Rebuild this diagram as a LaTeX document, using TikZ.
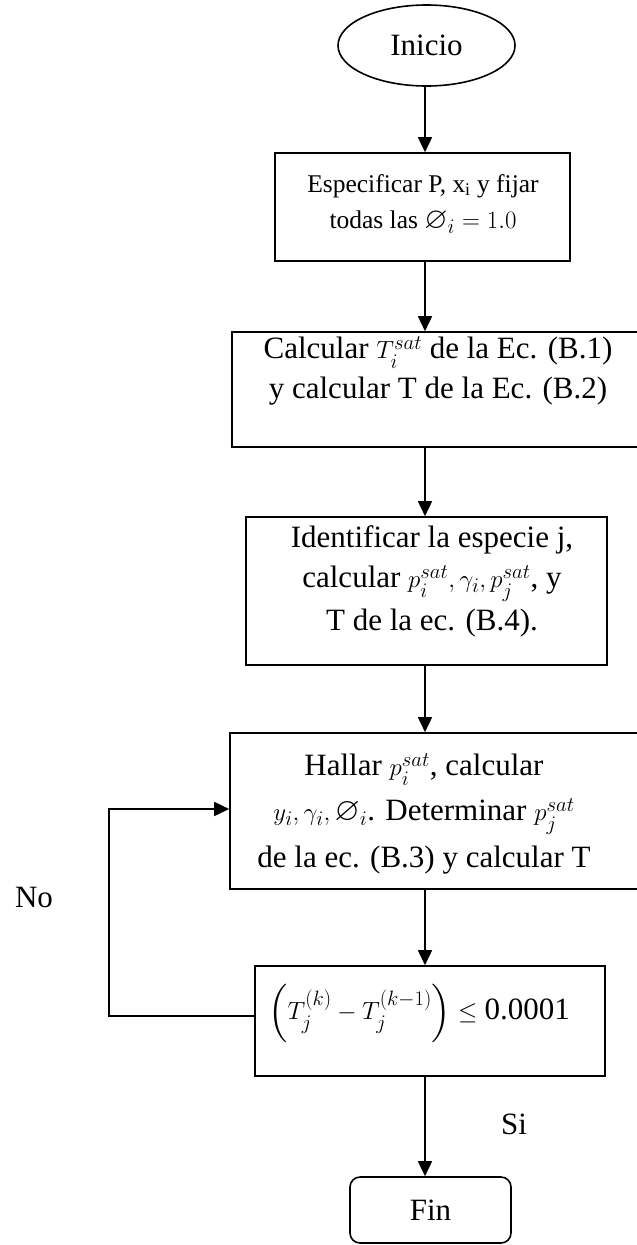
\documentclass[tikz,border=0pt]{standalone}
\usepackage{fontspec}
\usepackage{amssymb}
\setmainfont{Liberation Serif}
\usetikzlibrary{arrows.meta,shapes.geometric}

% math set a little larger so that it matches the serif text
\newcommand\mth[1]{{\fontsize{32.5}{40}\selectfont$#1$}}
\newcommand\mths[1]{{\fontsize{30}{35}\selectfont$#1$}}

\begin{document}
\begin{tikzpicture}[x=1pt,y=-1pt,
  line width=1.6pt,
  box/.style={draw, line width=1.6pt, inner sep=0pt},
  txt/.style={inner sep=0pt, align=center, anchor=north},
  lbl/.style={inner sep=0pt, font=\fontsize{31}{36}\selectfont},
  flow/.style={-{Triangle[length=15pt,width=14pt]}, line width=1.6pt}]

\clip (0,0) rectangle (637,1245);

% main axis of the flow and the return path
\coordinate (axis) at (425,0);
\coordinate (ret) at (109,0);

% shapes
\node[draw, ellipse, line width=1.6pt, minimum width=177pt, minimum height=81pt, inner sep=0pt,
      font=\fontsize{31}{36}\selectfont] (ini) at (426.5,45.5) {Inicio};
\node[box, minimum width=295pt, minimum height=108pt] (b1) at (422.5,207) {};
\node[box, minimum width=410pt, minimum height=115pt] (b2) at (437,389.5) {};
\node[box, minimum width=361pt, minimum height=148pt] (b3) at (426.5,591) {};
\node[box, minimum width=410pt, minimum height=156pt] (b4) at (435,811) {};
\node[box, minimum width=350pt, minimum height=110pt] (b5) at (430,1021) {};
\node[box, rounded corners=10pt, minimum width=161pt, minimum height=66pt,
      font=\fontsize{31}{36}\selectfont] (fin) at (430.5,1210) {Fin};

% texts inside the boxes
\node[txt, font=\fontsize{25.5}{36}\selectfont] (t1) at (423,166)
  {Especificar P, x\textsubscript{i} y fijar\strut\\
   todas las \mths{\varnothing_i = 1.0}\strut};
\node[txt, font=\fontsize{31}{40}\selectfont] (t2) at (438,330)
  {Calcular \mth{T_i^{sat}} de la Ec. (B.1)\strut\\
   y calcular T de la Ec. (B.2)\strut};
\node[txt, font=\fontsize{31}{40}\selectfont] (t3) at (432,519)
  {Identificar la especie j,\strut\\
   calcular \mth{p_i^{sat}, \gamma_i, p_j^{sat}}, y\strut\\
   T de la ec. (B.4).\strut};
\node[txt, font=\fontsize{31}{45}\selectfont] (t4) at (424,743.5)
  {Hallar \mth{p_i^{sat}}, calcular\strut\\
   \mth{y_i, \gamma_i, \varnothing_i}. Determinar \mth{p_j^{sat}}\strut\\
   de la ec. (B.3) y calcular T\strut};
\node[txt, font=\fontsize{31}{40}\selectfont] (t5) at (419,983)
  {\mth{\left(T_j^{(k)}-T_j^{(k-1)}\right)\le{}}0.0001\strut};

% branch labels
\node[lbl] (si) at (514,1124) {Si};
\node[lbl] (no) at (34,897) {No};

% connectors
\draw[flow] (axis |- ini.south) -- (axis |- b1.north);
\draw[flow] (axis |- b1.south) -- (axis |- b2.north);
\draw[flow] (axis |- b2.south) -- (axis |- b3.north);
\draw[flow] (axis |- b3.south) -- (axis |- b4.north);
\draw[flow] (axis |- b4.south) -- (axis |- b5.north);
\draw[flow] (axis |- b5.south) -- (axis |- fin.north);
\draw[flow] ([yshift=5pt]b5.west) -| ([yshift=2pt]b4.west -| ret) -- ([yshift=2pt]b4.west);
\end{tikzpicture}
\end{document}
